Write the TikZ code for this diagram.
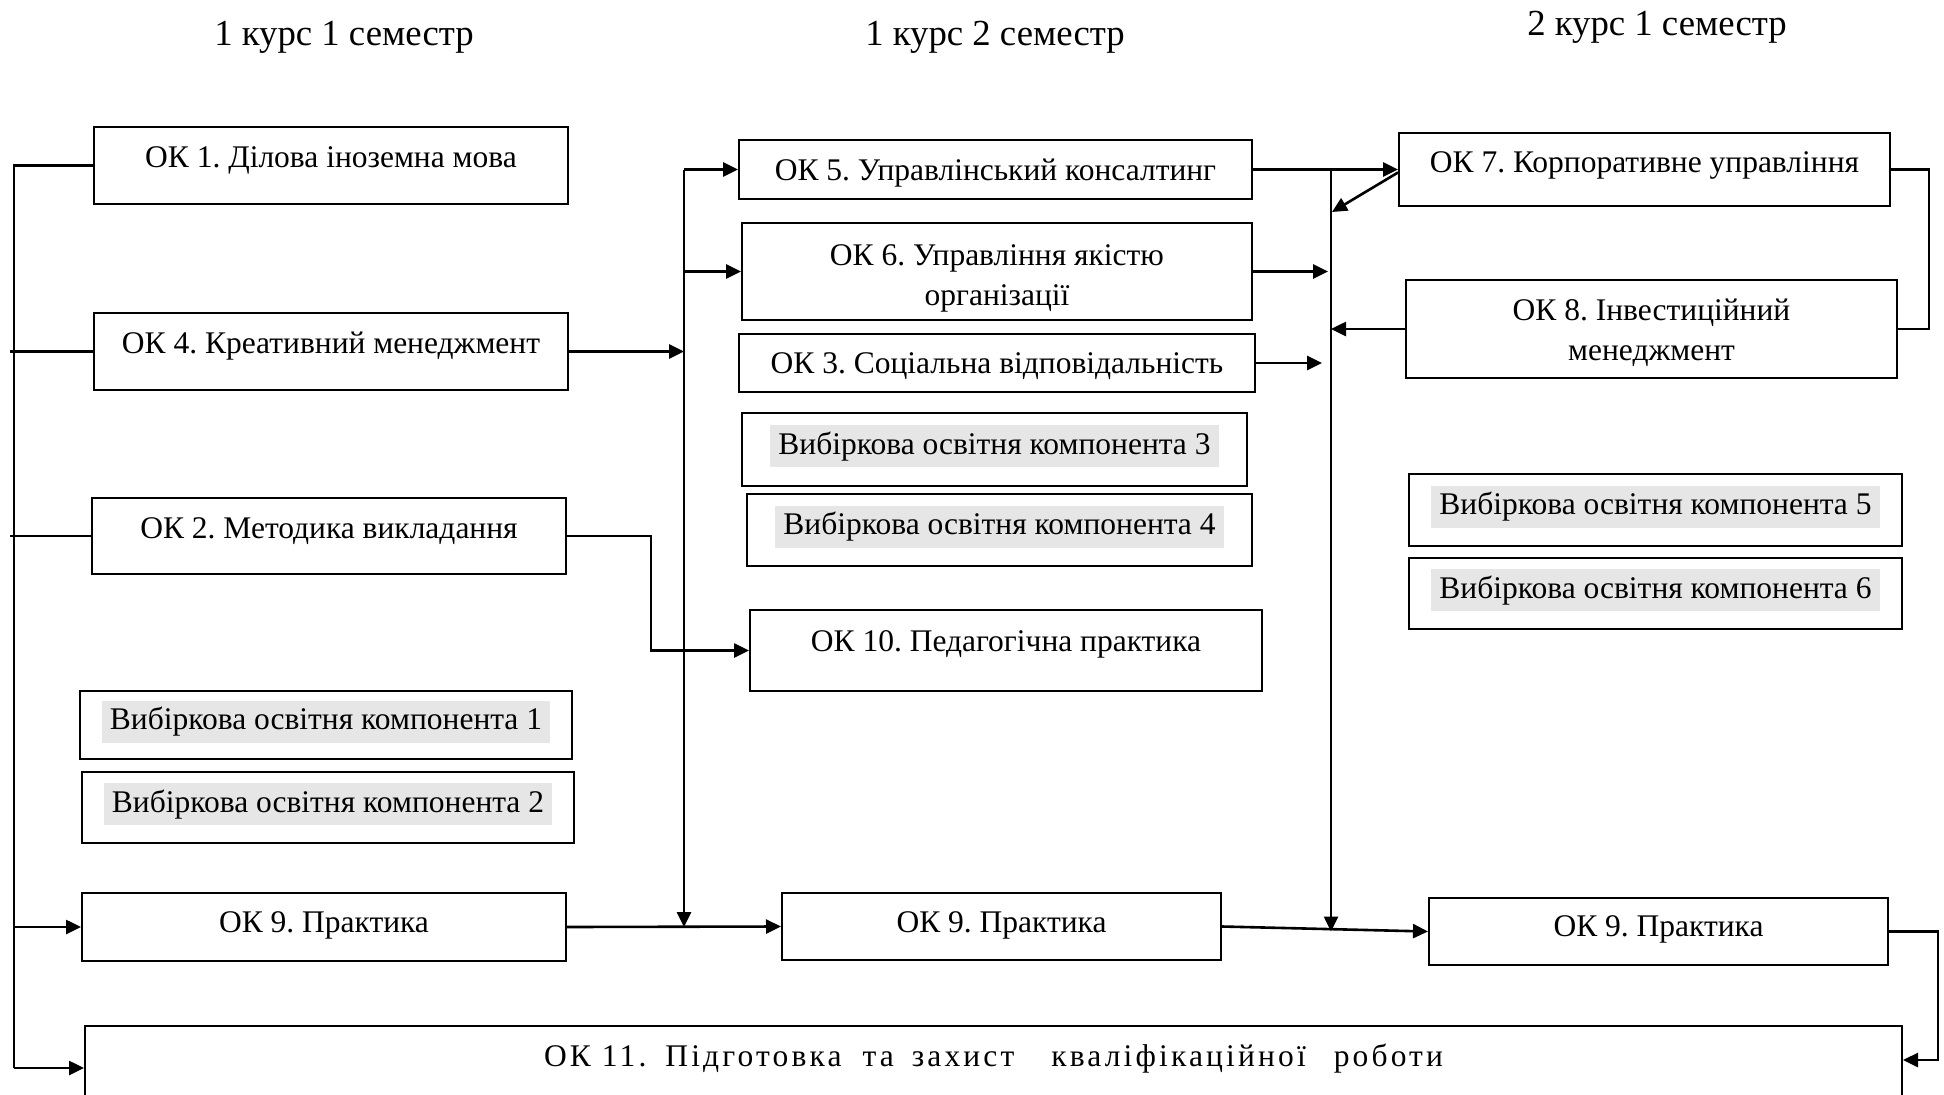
\documentclass[tikz,border=0pt]{standalone}
\usepackage{fontspec}
\setmainfont{Liberation Serif}
\usetikzlibrary{arrows.meta}
\definecolor{hlgray}{RGB}{230,230,230}
\newcommand{\hlbox}[1]{{\setlength{\fboxsep}{1pt}\colorbox{hlgray}{\hspace{7pt}\strut#1\hspace{7pt}}}}
\frenchspacing

\begin{document}
\begin{tikzpicture}[x=1pt, y=-1pt,
  font=\fontsize{31.5}{40}\selectfont,
  comp/.style={draw, line width=2pt, inner sep=0pt, align=center},
  lift/.style={text height=22pt, text depth=#1},
  elect/.style={comp, lift=13pt},
  sem/.style={font=\fontsize{36.75}{44}\selectfont, anchor=base},
  wire/.style={line width=2.2pt},
  arr/.style={line width=2.6pt, -{Triangle[length=15pt,width=14pt]}}]
  \useasboundingbox (0,0) rectangle (1944,1095);
  \clip (0,0) rectangle (1944,1095);

  \node[sem] (s11) at (344,45) {1 курс 1 семестр};
  \node[sem] (s12) at (995,45) {1 курс 2 семестр};
  \node[sem] (s21) at (1657,35) {2 курс 1 семестр};

  \node[comp, lift=18pt, minimum width=474pt, minimum height=77pt] (ok1) at (331,165.5) {ОК 1. Ділова іноземна мова};
  \node[comp, lift=18pt, minimum width=474pt, minimum height=77pt] (ok4) at (331,351.5) {ОК 4. Креативний менеджмент};
  \node[comp, lift=17pt, minimum width=474pt, minimum height=76pt] (ok2) at (329,536) {ОК 2. Методика викладання};
  \node[elect, minimum width=492pt, minimum height=68pt] (vk1) at (326,725) {\hlbox{Вибіркова освітня компонента 1}};
  \node[elect, minimum width=492pt, minimum height=71pt] (vk2) at (328,807.5) {\hlbox{Вибіркова освітня компонента 2}};
  \node[comp, lift=11pt, minimum width=484pt, minimum height=68pt] (ok9a) at (324,927) {ОК 9. Практика};

  \node[comp, lift=0pt, minimum width=513pt, minimum height=59pt] (ok5) at (995.5,169.5) {ОК 5. Управлінський консалтинг};
  \node[comp, minimum width=510pt, minimum height=97pt] (ok6) at (997,271.5) {\rule{0pt}{34pt}ОК 6. Управління якістю\\організації};
  \node[comp, lift=1pt, minimum width=516pt, minimum height=58pt] (ok3) at (997,363) {ОК 3. Соціальна відповідальність};
  \node[elect, minimum width=505pt, minimum height=73pt] (vk3) at (994.5,449.5) {\hlbox{Вибіркова освітня компонента 3}};
  \node[elect, minimum width=505pt, minimum height=72pt] (vk4) at (999.5,530) {\hlbox{Вибіркова освітня компонента 4}};
  \node[comp, lift=20pt, minimum width=512pt, minimum height=81pt] (ok10) at (1006,650.5) {ОК 10. Педагогічна практика};
  \node[comp, lift=10pt, minimum width=439pt, minimum height=67pt] (ok9b) at (1001.5,926.5) {ОК 9. Практика};

  \node[comp, lift=16pt, minimum width=491pt, minimum height=73pt] (ok7) at (1644.5,169.5) {ОК 7. Корпоративне управління};
  \node[comp, minimum width=491pt, minimum height=98pt] (ok8) at (1651.5,329) {\rule{0pt}{30pt}ОК 8. Інвестиційний\\менеджмент};
  \node[elect, minimum width=493pt, minimum height=72pt] (vk5) at (1655.5,510) {\hlbox{Вибіркова освітня компонента 5}};
  \node[elect, minimum width=493pt, minimum height=71pt] (vk6) at (1655.5,593.5) {\hlbox{Вибіркова освітня компонента 6}};
  \node[comp, lift=12pt, minimum width=459pt, minimum height=67pt] (ok9c) at (1658.5,931.5) {ОК 9. Практика};

  \node[comp, lift=41pt, minimum width=1817pt, minimum height=100pt] (ok11) at (993.5,1076)
    {\addfontfeature{LetterSpace=10}ОК 11.\hspace{19pt}Підготовка\hspace{21pt}та\hspace{18pt}захист\hspace{37pt}кваліфікаційної\hspace{28pt}роботи};

  \coordinate (lbus) at (14,0);
  \coordinate (mbus) at (684,0);
  \coordinate (rbus) at (1331,0);
  \coordinate (rrail) at (1929,0);
  \coordinate (frail) at (1938,0);
  \coordinate (ok11l) at ([yshift=8pt]ok11.west);
  \coordinate (ok11r) at ([yshift=16pt]ok11.east);
  \coordinate (diag) at (1332,212);

  \draw[wire] (ok1.west) -| (lbus |- ok11l);
  \draw[arr] (lbus |- ok11l) -- (ok11l);
  \draw[wire] (ok4.west) -- +(-83,0);
  \draw[wire] (ok2.west) -- +(-81,0);
  \draw[arr] (lbus |- ok9a.west) -- (ok9a.west);

  \draw[arr] (ok4.east) -- (ok4.east -| mbus);
  \draw[arr] (mbus |- ok5.west) -- (ok5.west);
  \draw[arr] (mbus |- ok6.west) -- (ok6.west);
  \draw[arr] (mbus |- ok5.west) -- (mbus |- ok9a.east);
  \draw[arr] (ok9a.east) -- (ok9b.west);
  \draw[arr] (ok2.east) -- +(84,0) |- (ok10.west);

  \draw[arr] (ok5.east) -- (ok7.west);
  \draw[arr] (rbus |- ok5.east) -- (rbus |- ok9c.west);
  \draw[arr] ([yshift=-3pt]ok7.west) -- (diag);
  \draw[arr] (ok6.east) -- +(75,0);
  \draw[arr] (ok3.east) -- +(66,0);
  \draw[arr] (ok8.west) -- (ok8.west -| rbus);
  \draw[arr] (ok9b.east) -- (ok9c.west);
  \draw[wire] (ok7.east) -| (rrail |- ok8.east) -- (ok8.east);
  \draw[arr] (ok9c.east) -| (frail |- ok11r) -- (ok11r);
\end{tikzpicture}
\end{document}
